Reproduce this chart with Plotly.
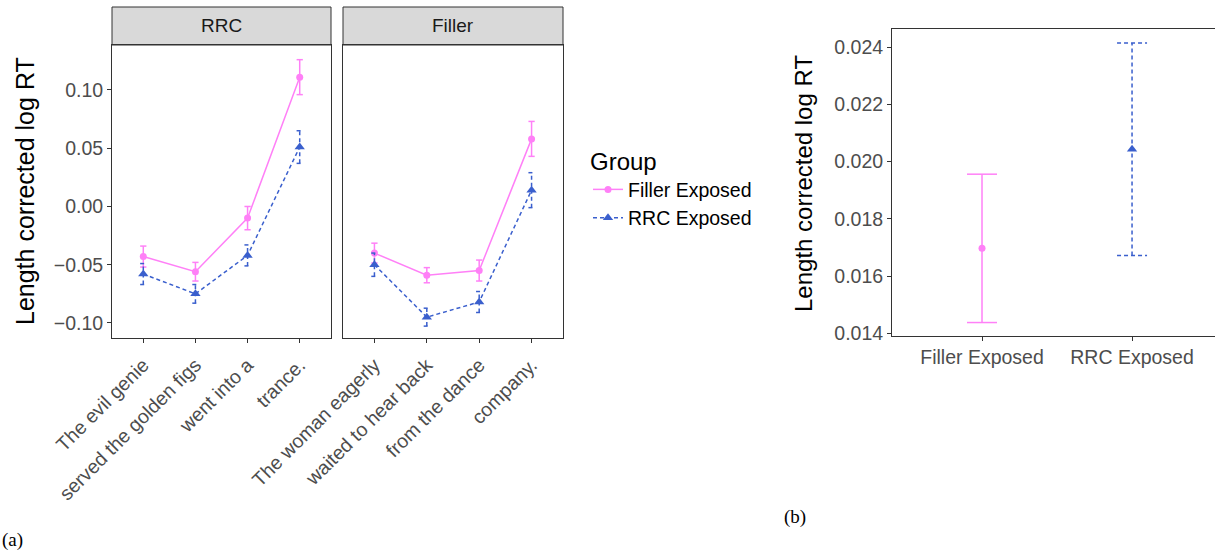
import plotly.graph_objects as go

# ---------------- data ----------------
rrc_words = ["The evil genie", "served the golden figs", "went into a", "trance."]
filler_words = ["The woman eagerly", "waited to hear back", "from the dance", "company."]
groups = ["Filler Exposed", "RRC Exposed"]
facets = ["RRC", "Filler"]
y_title = "Length corrected log RT"

# RRC items
rrc_fillerexp_mean = [-0.043, -0.056, -0.010, 0.111]
rrc_fillerexp_se = [0.009, 0.008, 0.010, 0.015]
rrc_rrcexp_mean = [-0.058, -0.075, -0.042, 0.051]
rrc_rrcexp_se = [0.009, 0.008, 0.009, 0.014]
# Filler items
fil_fillerexp_mean = [-0.040, -0.059, -0.055, 0.058]
fil_fillerexp_se = [0.0085, 0.0065, 0.009, 0.015]
fil_rrcexp_mean = [-0.050, -0.095, -0.082, 0.014]
fil_rrcexp_se = [0.010, 0.0077, 0.009, 0.015]

# overall (panel b)
overall_mean = [0.01697, 0.02043]
overall_se = [0.00259, 0.00371]

y_ticks_a = [-0.10, -0.05, 0.00, 0.05, 0.10]
y_ticks_b = [0.014, 0.016, 0.018, 0.020, 0.022, 0.024]

# ---------------- style ----------------
W, H = 1215, 552
PINK = "#FF80F7"
BLUE = "#3A5FCD"
DARK = "#333333"
TICKC = "#4D4D4D"
FONT = "Liberation Sans, Arial, sans-serif"
DASH = "4px,3px"
TICK_SIZE = 19.5


def px_x(p):
    return p / W


def px_y(p):
    return 1 - p / H


def errbar_xy(xs, means, ses, hw):
    ex, ey = [], []
    for x, m, s in zip(xs, means, ses):
        lo, hi = m - s, m + s
        ex += [x, x, None, x - hw, x + hw, None, x - hw, x + hw, None]
        ey += [lo, hi, None, lo, lo, None, hi, hi, None]
    return ex, ey


fig = go.Figure()

panels = [
    ("x", "y", rrc_words, [(rrc_fillerexp_mean, rrc_fillerexp_se), (rrc_rrcexp_mean, rrc_rrcexp_se)]),
    ("x2", "y2", filler_words, [(fil_fillerexp_mean, fil_fillerexp_se), (fil_rrcexp_mean, fil_rrcexp_se)]),
]

styles = [
    dict(color=PINK, dash="solid", symbol="circle", size=7),
    dict(color=BLUE, dash=DASH, symbol="triangle-up", size=9),
]

for pi, (xa, ya, words, series) in enumerate(panels):
    xs = list(range(1, len(words) + 1))
    for gi, (means, ses) in enumerate(series):
        st = styles[gi]
        ex, ey = errbar_xy(xs, means, ses, 0.06)
        fig.add_trace(go.Scatter(
            x=ex, y=ey, xaxis=xa, yaxis=ya, mode="lines",
            line=dict(color=st["color"], width=1.5, dash=st["dash"]),
            showlegend=False, hoverinfo="skip"))
        fig.add_trace(go.Scatter(
            x=xs, y=means, xaxis=xa, yaxis=ya, mode="lines+markers",
            name=groups[gi],
            showlegend=(pi == 0),
            line=dict(color=st["color"], width=1.5, dash=st["dash"]),
            marker=dict(color=st["color"], symbol=st["symbol"], size=st["size"],
                        line=dict(width=0))))

# panel b
xs_b = list(range(1, len(groups) + 1))
for gi in range(len(groups)):
    st = styles[gi]
    ex, ey = errbar_xy([xs_b[gi]], [overall_mean[gi]], [overall_se[gi]], 0.1)
    fig.add_trace(go.Scatter(
        x=ex, y=ey, xaxis="x3", yaxis="y3", mode="lines",
        line=dict(color=st["color"], width=1.5, dash=st["dash"]),
        showlegend=False, hoverinfo="skip"))
    fig.add_trace(go.Scatter(
        x=[xs_b[gi]], y=[overall_mean[gi]], xaxis="x3", yaxis="y3", mode="markers",
        marker=dict(color=st["color"], symbol=st["symbol"], size=st["size"],
                    line=dict(width=0)),
        showlegend=False))

axis_common = dict(showgrid=False, zeroline=False, showline=True, linecolor=DARK,
                   linewidth=1, ticks="outside", ticklen=4, tickcolor=DARK, tickwidth=1,
                   automargin=False,
                   tickfont=dict(size=TICK_SIZE, color=TICKC, family=FONT))

ya_range = [-0.1129, 0.1386]

fig.update_layout(
    width=W, height=H, margin=dict(l=0, r=0, t=0, b=0, autoexpand=False),
    paper_bgcolor="white", plot_bgcolor="white",
    font=dict(family=FONT, color="black"),
    xaxis=dict(axis_common, domain=[px_x(112), px_x(331)], anchor="y", range=[0.4, 4.6],
               tickvals=list(range(1, 5)), ticktext=rrc_words, tickangle=-45, mirror=True,
               ticklabelstandoff=3),
    yaxis=dict(axis_common, domain=[px_y(338), px_y(45)], anchor="x", range=ya_range,
               tickvals=y_ticks_a, tickformat=".2f", mirror=True),
    xaxis2=dict(axis_common, domain=[px_x(343), px_x(563)], anchor="y2", range=[0.4, 4.6],
                tickvals=list(range(1, 5)), ticktext=filler_words, tickangle=-45, mirror=True,
                ticklabelstandoff=3),
    yaxis2=dict(axis_common, domain=[px_y(338), px_y(45)], anchor="x2", range=ya_range,
                showticklabels=False, ticks="", mirror=True),
    xaxis3=dict(axis_common, domain=[px_x(892), 1.0], anchor="y3", range=[0.4, 2.553],
                tickvals=xs_b, ticktext=groups, tickangle=0, mirror=True),
    yaxis3=dict(axis_common, domain=[px_y(336), px_y(29)], anchor="x3",
                range=[0.01391, 0.02463], tickvals=y_ticks_b, tickformat=".3f", mirror=False),
    legend=dict(x=px_x(588), y=px_y(139), xanchor="left", yanchor="top",
                title=dict(text="Group", font=dict(size=24, color="black")),
                font=dict(size=19.5, color="black"), itemwidth=30, tracegroupgap=0,
                bgcolor="rgba(0,0,0,0)"),
)

# y-axis titles
fig.add_annotation(x=px_x(25), y=px_y(191), xref="paper", yref="paper", text=y_title,
                   textangle=-90, showarrow=False, xanchor="center", yanchor="middle",
                   font=dict(size=25, color="black", family=FONT))
fig.add_annotation(x=px_x(804), y=px_y(184), xref="paper", yref="paper", text=y_title,
                   textangle=-90, showarrow=False, xanchor="center", yanchor="middle",
                   font=dict(size=24, color="black", family=FONT))

# facet strips
strip_x = [(112, 331), (343, 563)]
for (x0, x1), lab in zip(strip_x, facets):
    fig.add_shape(type="rect", xref="paper", yref="paper",
                  x0=px_x(x0), x1=px_x(x1), y0=px_y(45), y1=px_y(7),
                  fillcolor="#D9D9D9", line=dict(color=DARK, width=1), layer="below")
    fig.add_annotation(x=px_x((x0 + x1) / 2), y=px_y(26), xref="paper", yref="paper",
                       text=lab, showarrow=False, xanchor="center", yanchor="middle",
                       font=dict(size=19, color="#1A1A1A", family=FONT))

# sub-figure labels
fig.add_annotation(x=0, y=px_y(540), xref="paper", yref="paper", text="(a)",
                   showarrow=False, xanchor="left", yanchor="middle",
                   font=dict(size=19, color="black", family="Liberation Serif, Times New Roman, serif"))
fig.add_annotation(x=px_x(782), y=px_y(517), xref="paper", yref="paper", text="(b)",
                   showarrow=False, xanchor="left", yanchor="middle",
                   font=dict(size=19, color="black", family="Liberation Serif, Times New Roman, serif"))

fig.write_html("out.html")
